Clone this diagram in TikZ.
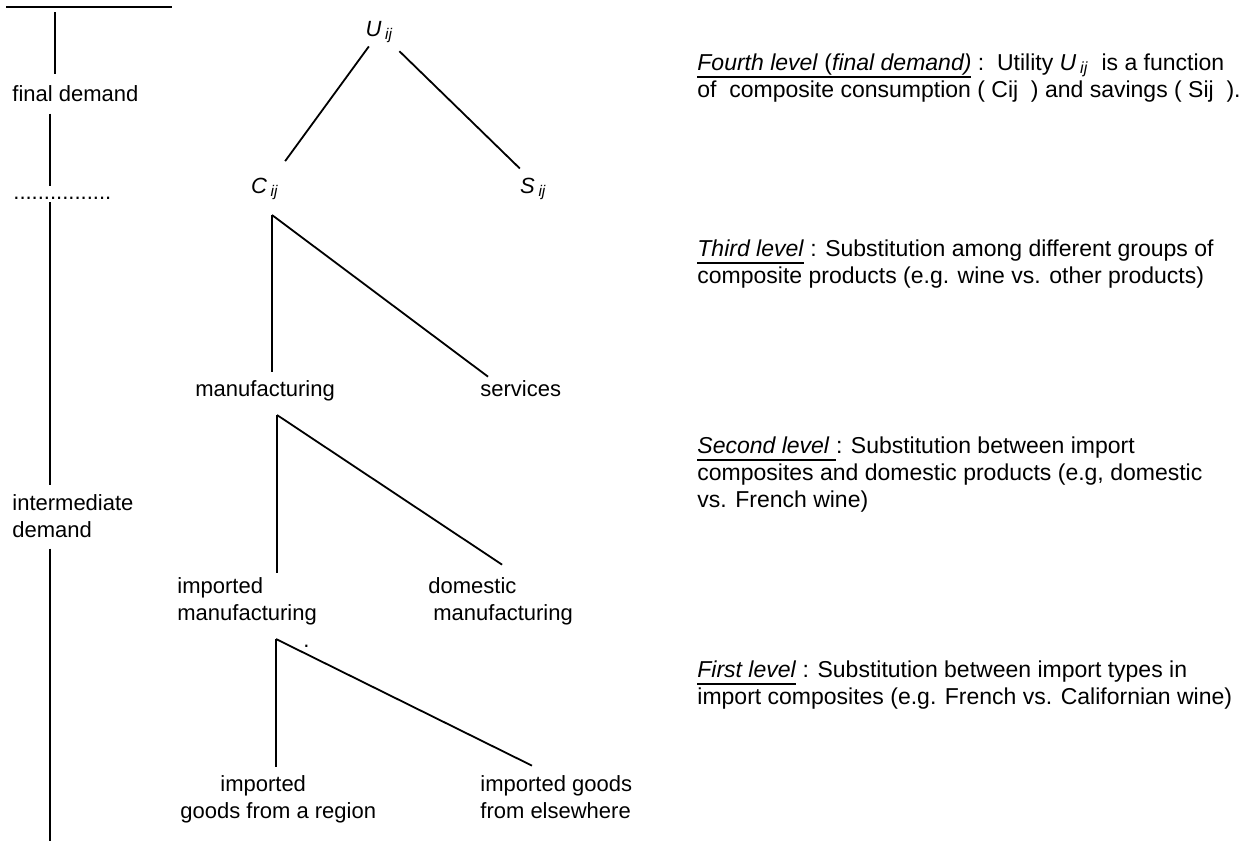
\documentclass[tikz,border=0pt]{standalone}
\usepackage{fontspec}
\setmainfont{Liberation Sans}
\usetikzlibrary{calc}

\newsavebox\ulbox
\newcommand{\lowul}[1]{\sbox\ulbox{#1}\rlap{\rule[-4pt]{\wd\ulbox}{0.9pt}}\usebox\ulbox}
\newcommand{\subvar}[2]{\textit{#1}\,\textsubscript{\textit{#2}}}

\begin{document}
\begin{tikzpicture}[
  x=0.5pt,y=-0.5pt,
  txt/.style={inner sep=0pt,font=\fontsize{11}{13.5}\selectfont,align=left},
  lev/.style={txt,anchor=base west},
  note/.style={lev,font=\fontsize{11.5}{13.5}\selectfont},
  branch/.style={line width=0.9pt},
]
\useasboundingbox (0,0) rectangle (1242,847);

% === Demand axis (left) ===
\coordinate (topL) at (6,7);
\coordinate (topR) at (172,7);
\coordinate (ax0) at (55,12);
\coordinate (ax) at (50,0);
\coordinate (axEnd) at (50,841);
\node[lev] (fd) at (12,101) {final demand};
\node[lev] (dots) at (13,199) {................};
\node[lev] (idm) at (12,537) {intermediate\\demand};

\draw[branch] (topL) -- (topR);
\draw[branch,shorten >=5.5pt] (ax0) -- (ax0 |- fd.north);
\draw[branch,shorten <=6pt,shorten >=5pt] (fd.south -| ax) -- (dots.north -| ax);
\draw[branch,shorten <=1.5pt,shorten >=4.5pt] (dots.south -| ax) -- (idm.north -| ax);
\draw[branch,shorten <=5.5pt] (idm.south -| ax) -- (axEnd);

% === Nesting tree ===
\node[txt,anchor=base] (U) at (379.5,36) {\subvar{U}{ij}};
\node[txt,anchor=base] (C) at (265,193) {\subvar{C}{ij}};
\node[txt,anchor=base] (S) at (533.5,193) {\subvar{S}{ij}};
\node[lev] (manu) at (195,396) {manufacturing};
\node[lev] (serv) at (480,396) {services};
\node[lev] (impm) at (177,620) {imported\\manufacturing};
\node[lev] (domm) at (428,620) {domestic\\\hspace*{2.5pt}manufacturing};
\node[lev] (stray) at (303,647) {.};
\node[lev] (impr) at (180,818) {\hspace*{20pt}imported\\goods from a region};
\node[lev] (impe) at (480,818) {imported goods\\from elsewhere};

\coordinate (Cf) at (272,215);
\coordinate (Mf) at (277,415);
\coordinate (If) at (276,639);

\draw[branch,shorten <=2pt,shorten >=10pt] (U) -- (C);
\draw[branch,shorten <=5.7pt,shorten >=6.3pt] (U) -- ($(S.north west)+(9,0)$);
\draw[branch] (Cf) -- ($(Cf |- manu.north)+(0,-8)$);
\draw[branch] (Cf) -- ($(serv.north west)+(8,-3)$);
\draw[branch] (Mf) -- ($(Mf |- impm.north)+(0,-4)$);
\draw[branch] (Mf) -- ($(domm.north)+(1.5,-12)$);
\draw[branch] (If) -- ($(If |- impr.north)+(0,-8)$);
\draw[branch] (If) -- ($(impe.north west)+(52,-9)$);

% === Level descriptions ===
\node[note] (lev4) at (697,97) {\lowul{\textit{Fourth level} (\textit{final demand)}}\ :\ \ Utility \subvar{U}{ij}\ \ is a function\\of\ \ composite consumption ( Cij\ \ ) and savings ( Sij\ \ ).};
\node[note] (lev3) at (697,283) {\lowul{\textit{Third level}} : Substitution among different groups of\\composite products (e.g. wine vs. other products)};
\node[note] (lev2) at (697,507) {\lowul{\textit{Second level}\ }: Substitution between import\\composites and domestic products (e.g, domestic\\vs. French wine)};
\node[note] (lev1) at (697,704) {\lowul{\textit{First level}} : Substitution between import types in\\import composites (e.g. French vs. Californian wine)};

\end{tikzpicture}
\end{document}
